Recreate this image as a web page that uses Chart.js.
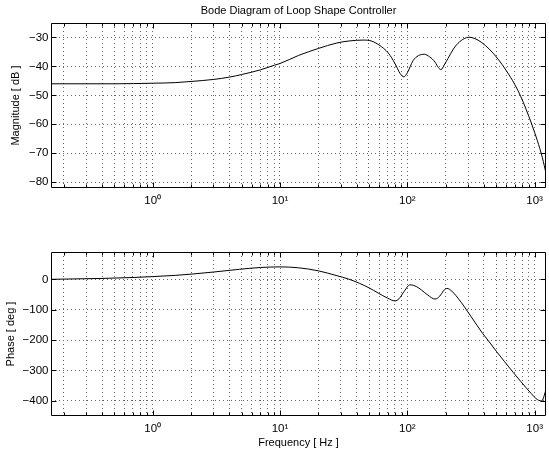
<!DOCTYPE html>
<html><head><meta charset="utf-8">
<script src="https://cdn.jsdelivr.net/npm/chart.js@4/dist/chart.umd.min.js"></script>
<style>
html,body{margin:0;padding:0;background:#fff;}
#wrap{position:relative;width:549px;height:455px;overflow:hidden;background:#fff}
#c1{position:absolute;left:0;top:0}
#c2{position:absolute;left:0;top:215px}
</style></head><body>
<div id="wrap"><canvas id="c1" width="549" height="215"></canvas><canvas id="c2" width="549" height="240"></canvas></div>
<script>
// ---- data ----
const MAG_FREQ = [0.159,0.3,0.5,1.0,1.5,2.0,3.0,4.0,5.0,7.0,9.0,10,14,20,28,35,45,52,60,71,80,88,94,100,111,122,136,150,165,176,184,195,209,230,250,280,305,340,380,440,517,600,698,780,857,950,1050,1150,1230];
const MAG_DB   = [-46,-46,-46,-45.8,-45.6,-45.2,-44.5,-43.7,-42.8,-41.2,-39.6,-39.0,-36.2,-33.8,-31.9,-31.2,-30.9,-31.2,-32.6,-35.4,-39.0,-42.5,-43.6,-42.2,-38.0,-36.3,-35.8,-36.7,-38.5,-40.5,-41.1,-39.5,-37.2,-34.0,-32.0,-30.4,-29.9,-30.4,-31.6,-34.0,-37.5,-41.5,-46.2,-50.5,-54.8,-60.0,-65.6,-71.5,-77];
const PHASE_FREQ = [0.159,0.25,0.4,0.7,1.0,1.5,2.0,3.0,4.8,7.0,10,14,20,28,34.5,42,50,59,70,80,86,95,105,118,129,145,165,180,192,204,215,250,317,390,429,500,580,680,780,935,1050,1140,1190,1230];
const PHASE_DEG  = [0,1.5,3,6,9,13,17,24,33,39,41,38,28,12,1,-13,-28,-45,-62,-71,-64,-38,-18,-24,-35,-52,-65,-55,-38,-30,-33,-62,-123,-178,-200,-237,-271,-307,-337,-375,-396,-400,-382,-360];
const MAG_TICKS = [-80,-70,-60,-50,-40,-30];
const PHASE_TICKS = [-400,-300,-200,-100,0];
const X_LABELS = {1:'10\u2070',10:'10\u00B9',100:'10\u00B2',1000:'10\u00B3'};
const X_MIN = 0.159, X_MAX = 1230;
const MAG_RANGE = [-82,-25];
const PHASE_RANGE = [-450,90];

const FONT = 'Liberation Sans, Arial, Helvetica, sans-serif';
Chart.defaults.font.family = FONT;
Chart.defaults.color = '#000';

function xGridTicks(){
  const t=[];
  for(let d=-1; d<=3; d++){
    for(let m=1; m<=9; m++){
      const v = m*Math.pow(10,d);
      if(v>=X_MIN && v<=X_MAX) t.push({value:v});
    }
  }
  return t;
}
const minus = v => String(v).replace('-', '\u2212');

const framePlugin = {
  id:'frame',
  afterDatasetsDraw(chart){
    const {ctx, chartArea:a, scales} = chart;
    ctx.save();
    ctx.strokeStyle='#000'; ctx.lineWidth=1;
    const L=Math.round(a.left)+0.5, R=Math.round(a.right)-0.5, T=Math.round(a.top)+0.5, B=Math.round(a.bottom)-0.5;
    ctx.beginPath();
    ctx.rect(L,T,R-L,B-T);
    const xs=scales.x, ys=scales.y;
    xs.ticks.forEach(t=>{
      const px=Math.round(xs.getPixelForValue(t.value))+0.5;
      const len = X_LABELS[t.value] ? 5 : 3;
      ctx.moveTo(px,B); ctx.lineTo(px,B-len);
      ctx.moveTo(px,T); ctx.lineTo(px,T+len);
    });
    ys.ticks.forEach(t=>{
      const py=Math.round(ys.getPixelForValue(t.value))+0.5;
      ctx.moveTo(L,py); ctx.lineTo(L+5,py);
      ctx.moveTo(R,py); ctx.lineTo(R-5,py);
    });
    ctx.stroke();
    ctx.restore();
  }
};

function makeChart(el, freq, vals, yTicks, yRange, yTitle, yTitlePad, opts){
  return new Chart(el, {
    type:'line',
    data:{datasets:[{
      data: freq.map((f,i)=>({x:f,y:vals[i]})),
      borderColor:'#000', borderWidth:1, pointRadius:0, fill:false,
      cubicInterpolationMode:'monotone'
    }]},
    options:{
      responsive:false, animation:false, devicePixelRatio:1,
      layout:{padding:{top:opts.padTop,left:0,right:1,bottom:0}},
      plugins:{
        legend:{display:false}, tooltip:{enabled:false},
        title: opts.title ? {display:true, text:opts.title, fullSize:false, color:'#000',
          font:{family:FONT,size:11,weight:'normal'}, padding:{top:4,bottom:5.8}} : {display:false}
      },
      scales:{
        x:{type:'logarithmic', min:X_MIN, max:X_MAX,
          afterBuildTicks: s=>{ s.ticks = xGridTicks(); },
          afterFit: s=>{ s.height = opts.xHeight; },
          ticks:{autoSkip:false, maxRotation:0, padding:6, color:'#000',
            font:{family:FONT,size:11.5}, callback:v=>X_LABELS[v]||''},
          grid:{color:'#666', lineWidth:1, drawTicks:false},
          border:{display:false, dash:[1,3]},
          title: opts.xTitle ? {display:true, text:opts.xTitle, color:'#000',
            font:{family:FONT,size:11}, padding:{top:0,bottom:5.1}} : {display:false}
        },
        y:{type:'linear', min:yRange[0], max:yRange[1],
          afterBuildTicks: s=>{ s.ticks = yTicks.map(v=>({value:v})); },
          afterFit: s=>{ s.width = 51; },
          ticks:{padding:2.5, color:'#000', font:{family:FONT,size:11.5}, callback:v=>minus(v)},
          grid:{color:'#666', lineWidth:1, drawTicks:false},
          border:{display:false, dash:[1,3]},
          title:{display:true, text:yTitle, color:'#000', font:{family:FONT,size:11},
            padding:{top:yTitlePad,bottom:0}}
        }
      }
    },
    plugins:[framePlugin]
  });
}

makeChart(document.getElementById('c1'), MAG_FREQ, MAG_DB, MAG_TICKS, MAG_RANGE,
  'Magnitude [ dB ]', 9, {padTop:0, xHeight:27, title:'Bode Diagram of Loop Shape Controller'});
makeChart(document.getElementById('c2'), PHASE_FREQ, PHASE_DEG, PHASE_TICKS, PHASE_RANGE,
  'Phase [ deg ]', 4.7, {padTop:37, xHeight:39, xTitle:'Frequency [ Hz ]'});
</script>
</body></html>
